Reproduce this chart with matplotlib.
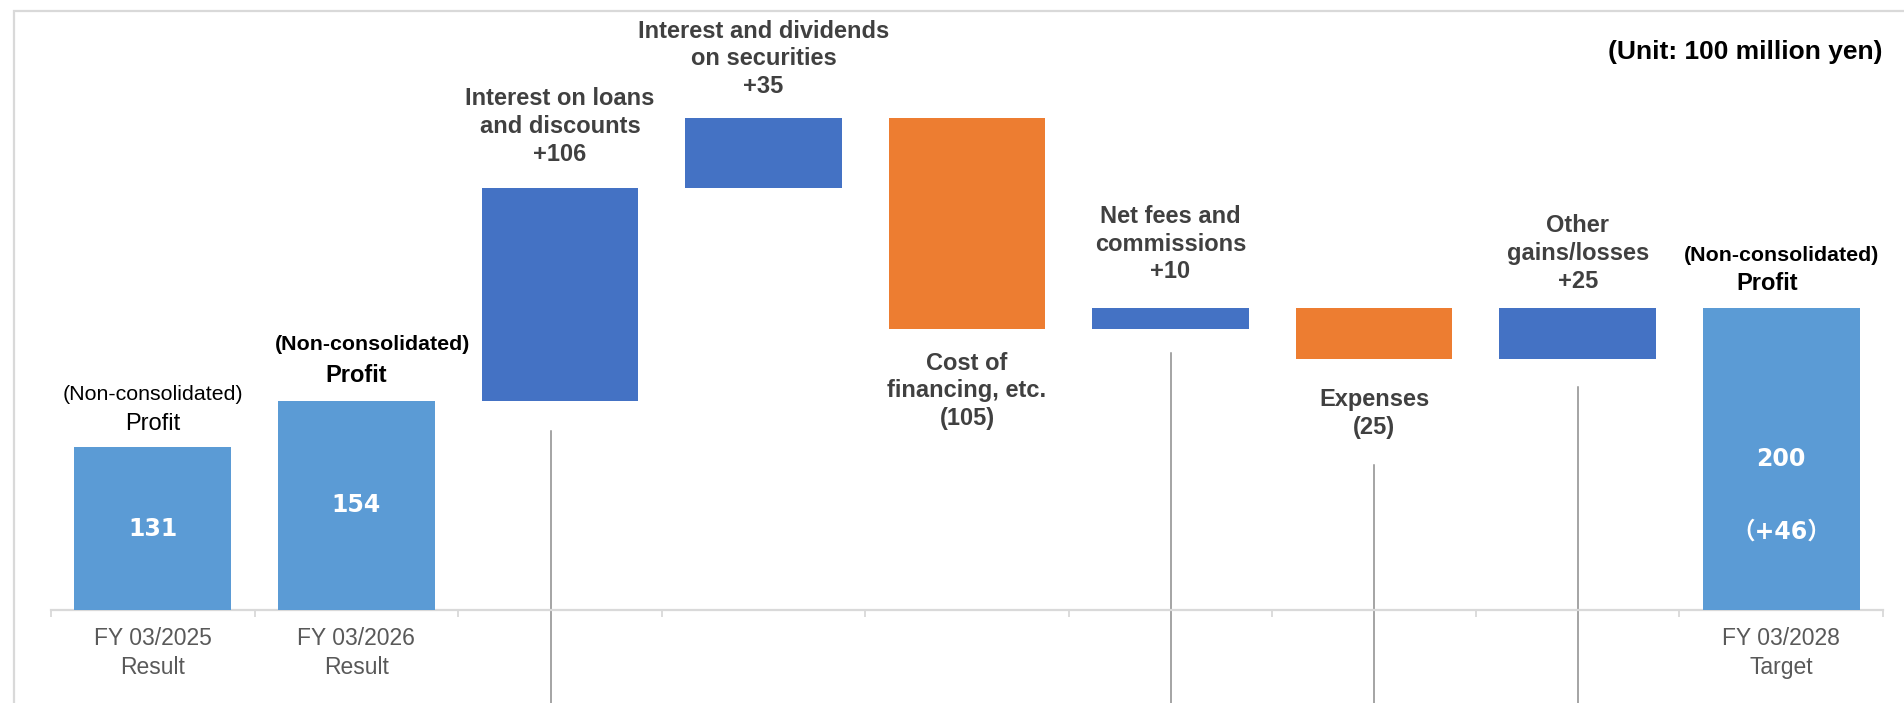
import matplotlib
matplotlib.use("Agg")
import matplotlib.pyplot as plt
from matplotlib.patches import Rectangle
import numpy as np

# ---- data -------------------------------------------------------------
categories = ["FY 03/2025\nResult", "FY 03/2026\nResult", "", "", "", "", "", "",
              "FY 03/2028\nTarget"]
values = [131, 154, 106, 35, -105, 10, -25, 25, 200]
is_total = [True, True, False, False, False, False, False, False, True]
item_names = ["", "", "Interest on loans\nand discounts",
              "Interest and dividends\non securities",
              "Cost of\nfinancing, etc.", "Net fees and\ncommissions",
              "Expenses", "Other\ngains/losses", ""]
target_increase = 46
unit_text = "(Unit: 100 million yen)"
caption_top = "(Non-consolidated)"
caption_bottom = "Profit"

# leader lines: category index, top value
leader_idx = [2, 5, 6, 7]
leader_top = [139, 178, 122, 161]

# ---- styling ----------------------------------------------------------
C_TOTAL = "#5B9BD5"
C_UP = "#4472C4"
C_DOWN = "#ED7D31"
C_LABEL = "#404040"
C_AXIS = "#D9D9D9"
FONT = ["Liberation Sans", "Noto Sans CJK JP", "DejaVu Sans"]
plt.rcParams["font.family"] = FONT

W, H, DPI = 1904, 703, 100
fig = plt.figure(figsize=(W / DPI, H / DPI), dpi=DPI)
ax = fig.add_axes([51 / W, 1 - 610 / H, (1883 - 51) / W, (610 - 20) / H])

# frame around the chart area
fig.patches.append(Rectangle((14 / W, -0.1), 1.2, 1 - 11 / H + 0.1,
                             transform=fig.transFigure, fill=False,
                             edgecolor=C_AXIS, lw=1.6, zorder=0))

# waterfall geometry
x = np.arange(len(values))
bottoms, heights, colors = [], [], []
running = 0
for v, tot in zip(values, is_total):
    if tot:
        bottoms.append(0)
        heights.append(v)
        colors.append(C_TOTAL)
        running = v
    else:
        if v >= 0:
            bottoms.append(running)
            heights.append(v)
            colors.append(C_UP)
        else:
            bottoms.append(running + v)
            heights.append(-v)
            colors.append(C_DOWN)
        running += v

ymin = 50
ax.bar(x, heights, bottom=bottoms, width=0.77, color=colors, zorder=3)
ax.set_xlim(-0.5, len(values) - 0.5)
ax.set_ylim(ymin, ymin + 590 / 2.01)

# leader lines running down from below the change bars
for i, top in zip(leader_idx, leader_top):
    xo = -0.044 if i == 2 else 0.0
    ax.plot([i + xo, i + xo], [top, 0], color="#8C8C8C", lw=1.1,
            clip_on=False, zorder=1)

# axes cosmetics
for s in ["left", "right", "top"]:
    ax.spines[s].set_visible(False)
ax.spines["bottom"].set_color(C_AXIS)
ax.spines["bottom"].set_linewidth(1.6)
ax.spines["bottom"].set_zorder(2)
ax.set_yticks([])
ax.set_xticks(x)
ax.set_xticklabels(categories, fontsize=16.5, color="#595959", linespacing=1.33)
ax.tick_params(axis="x", which="major", length=0, pad=12)
ax.set_xticks(np.arange(-0.5, len(values)), minor=True)
ax.tick_params(axis="x", which="minor", length=5, width=1.3, color=C_AXIS,
               direction="out")

# change-item labels
pos_off = {2: 16, 3: 14, 5: 18, 7: 11.5}
neg_off = {4: 16.5, 6: 21}
for i, (v, tot, name) in enumerate(zip(values, is_total, item_names)):
    if tot:
        continue
    if v >= 0:
        txt = f"{name}\n+{v}"
        ax.annotate(txt, (i, bottoms[i] + heights[i]), xytext=(0, pos_off[i]),
                    textcoords="offset points", ha="center", va="bottom",
                    fontsize=17, fontweight="bold", color=C_LABEL,
                    linespacing=1.26, zorder=4)
    else:
        txt = f"{name}\n({-v})"
        ax.annotate(txt, (i, bottoms[i]), xytext=(0, -neg_off[i]),
                    textcoords="offset points", ha="center", va="top",
                    fontsize=17, fontweight="bold", color=C_LABEL,
                    linespacing=1.26, zorder=4)

# total-bar captions: (bar index, weight, top-line offsets, bottom-line offsets)
caption_specs = [
    (0, "normal", (0, 33.8), (0, 12.2)),
    (1, "bold", (12, 36.7), (0, 13.7)),
    (8, "bold", (0, 34.3), (-10, 13.4)),
]
for i, weight, off_top, off_bot in caption_specs:
    ax.annotate(caption_top, (i, values[i]), xytext=off_top,
                textcoords="offset points", ha="center", va="baseline",
                fontsize=15.4, fontweight=weight, color="black")
    ax.annotate(caption_bottom, (i, values[i]), xytext=off_bot,
                textcoords="offset points", ha="center", va="baseline",
                fontsize=17, fontweight=weight, color="black")

# values inside the total bars
for i in [0, 1, 8]:
    ax.text(i, ymin + (values[i] - ymin) / 2, str(values[i]), ha="center",
            va="center", fontsize=17, fontweight="bold", color="white",
            family=["DejaVu Sans"], zorder=4)
mid8 = ymin + (values[8] - ymin) / 2
ax.annotate(f"（+{target_increase}）", (8, mid8), xytext=(0, -52),
            textcoords="offset points", ha="center", va="center",
            fontsize=17, fontweight="bold", color="white",
            family=["DejaVu Sans", "Noto Sans CJK JP"], zorder=4)

# unit note
fig.text(1883 / W, 1 - 52 / H, unit_text, ha="right", va="center",
         fontsize=19, fontweight="bold", color="black")

fig.savefig("out.png", dpi=DPI)
